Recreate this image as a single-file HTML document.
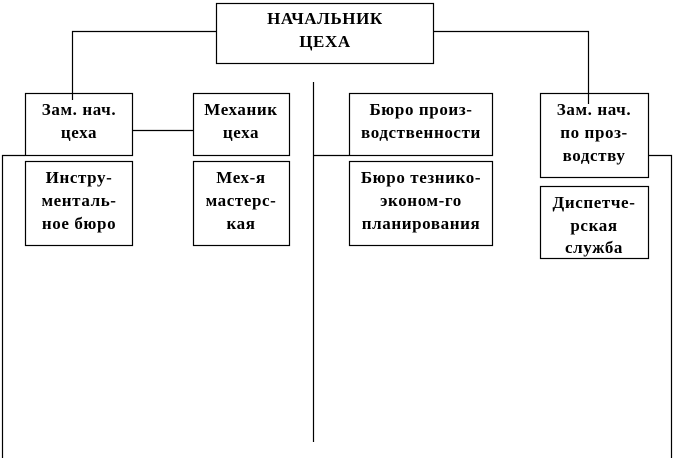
<!DOCTYPE html>
<html><head><meta charset="utf-8"><style>
html,body{margin:0;padding:0;background:#fff;}
svg{display:block;}
text{font-family:"Liberation Serif","DejaVu Serif",serif;font-size:17px;font-weight:bold;fill:#000;text-anchor:middle;letter-spacing:0.6px;}
</style></head><body>
<svg width="674" height="458" viewBox="0 0 674 458" xmlns="http://www.w3.org/2000/svg">
<g fill="none" stroke="#000" stroke-width="1.2">
<rect x="216.5" y="3.5" width="217" height="60"/>
<rect x="25.5" y="93.5" width="107" height="62"/>
<rect x="193.5" y="93.5" width="96" height="62"/>
<rect x="25.5" y="161.5" width="107" height="84"/>
<rect x="193.5" y="161.5" width="96" height="84"/>
<rect x="349.5" y="93.5" width="143" height="62"/>
<rect x="349.5" y="161.5" width="143" height="84"/>
<rect x="540.5" y="93.5" width="108" height="84"/>
<rect x="540.5" y="186.5" width="108" height="72"/>
<polyline points="216,31.5 72.5,31.5 72.5,100"/>
<polyline points="433,31.5 588.5,31.5 588.5,104"/>
<line x1="132" y1="130.5" x2="193" y2="130.5"/>
<polyline points="25,155.5 2.5,155.5 2.5,458"/>
<line x1="313.5" y1="82" x2="313.5" y2="442"/>
<line x1="313" y1="155.5" x2="349" y2="155.5"/>
<polyline points="648,155.5 671.5,155.5 671.5,458"/>
</g>
<text x="325" y="24">НАЧАЛЬНИК</text>
<text x="325" y="47">ЦЕХА</text>
<text x="79" y="115">Зам. нач.</text>
<text x="79" y="138">цеха</text>
<text x="241" y="115">Механик</text>
<text x="241" y="138">цеха</text>
<text x="79" y="183">Инстру-</text>
<text x="79" y="206">менталь-</text>
<text x="79" y="229">ное бюро</text>
<text x="241" y="183">Мех-я</text>
<text x="241" y="206">мастерс-</text>
<text x="241" y="229">кая</text>
<text x="421" y="115">Бюро произ-</text>
<text x="421" y="138">водственности</text>
<text x="421" y="183">Бюро тезнико-</text>
<text x="421" y="206">эконом-го</text>
<text x="421" y="229">планирования</text>
<text x="594" y="115">Зам. нач.</text>
<text x="594" y="138">по проз-</text>
<text x="594" y="161">водству</text>
<text x="594" y="208">Диспетче-</text>
<text x="594" y="231">рская</text>
<text x="594" y="253">служба</text>
</svg>
</body></html>
